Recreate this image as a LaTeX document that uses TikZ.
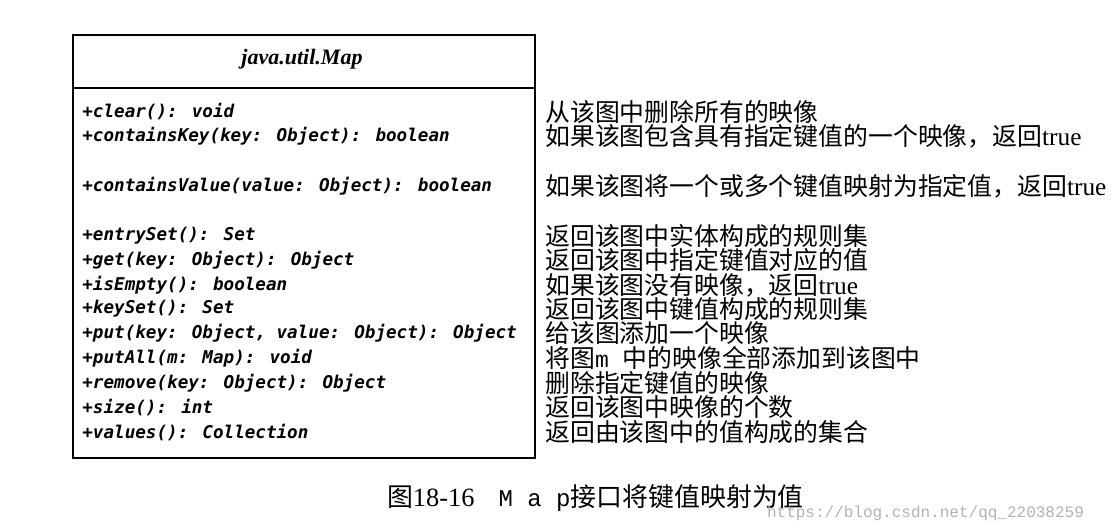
\documentclass[tikz,border=0pt]{standalone}
\usepackage{fontspec}
\setmainfont{Liberation Serif}
\newfontfamily\cjk{Noto Sans CJK SC}[Scale=1.08]
\newfontfamily\trueft{Liberation Serif}[Scale=1.1]
\newfontfamily\mono{Liberation Mono}
\newfontfamily\monob{DejaVu Sans Mono}[BoldItalicFont={DejaVu Sans Mono Bold Oblique}]
\begin{document}
\begin{tikzpicture}[x=0.5pt,y=-0.5pt,
  meth/.style={anchor=west,inner sep=0pt,font=\monob\bfseries\itshape\fontsize{8.8}{10}\selectfont},
  desc/.style={anchor=west,inner sep=0pt,font=\fontsize{11.5}{13}\selectfont}]
\useasboundingbox (0,0) rectangle (1112,530);
\draw[line width=0.7pt] (73,35) rectangle (535,458);
\draw[line width=0.7pt] (73,88) -- (535,88);
\node (title) at (302,59) {\fontsize{11}{13}\selectfont\bfseries\itshape java.util.Map};
\foreach \n/\y/\m/\d in {
 a/112/{+clear(): void}/{从该图中删除所有的映像},
 b/136/{+containsKey(key: Object): boolean}/{如果该图包含具有指定键值的一个映像，返回\trueft true},
 c/186/{+containsValue(value: Object): boolean}/{如果该图将一个或多个键值映射为指定值，返回\trueft true},
 d/236/{+entrySet(): Set}/{返回该图中实体构成的规则集},
 e/260/{+get(key: Object): Object}/{返回该图中指定键值对应的值},
 f/285/{+isEmpty(): boolean}/{如果该图没有映像，返回\trueft true},
 g/309/{+keySet(): Set}/{返回该图中键值构成的规则集},
 h/333/{+put(key: Object, value: Object): Object}/{给该图添加一个映像},
 i/358/{+putAll(m: Map): void}/{将图\mono m \cjk 中的映像全部添加到该图中},
 j/383/{+remove(key: Object): Object}/{删除指定键值的映像},
 k/407/{+size(): int}/{返回该图中映像的个数},
 l/432/{+values(): Collection}/{返回由该图中的值构成的集合}}
{
 \node[meth] (m\n) at (82,\y) {\m};
 \node[desc] (d\n) at (545,\y) {\cjk \d};
}
\node[anchor=west] (cap) at (380,498) {\fontsize{12}{14}\selectfont{\cjk 图}{\trueft 18-16}\quad {\mono M a p}{\cjk 接口将键值映射为值}};
\node[anchor=west,text=gray!60] (wm) at (760,513) {\mono\fontsize{8}{9}\selectfont https://blog.csdn.net/qq\_22038259};
\end{tikzpicture}
\end{document}
